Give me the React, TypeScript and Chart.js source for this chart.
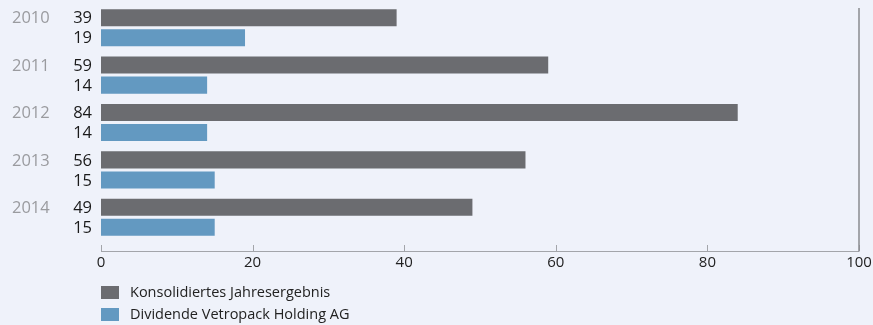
import React, { useEffect, useRef } from "react";
import { Chart, registerables } from "chart.js";

Chart.register(...registerables);

const years = ["2010", "2011", "2012", "2013", "2014"];
const konsolidiert = [39, 59, 84, 56, 49];
const dividende = [19, 14, 14, 15, 15];
const seriesNames = ["Konsolidiertes Jahresergebnis", "Dividende Vetropack Holding AG"];
const seriesColors = ["#6b6c70", "#6399c1"];
const xTicks = [0, 20, 40, 60, 80, 100];

const FONT = "'Open Sans', sans-serif";
const BG = "#eff2fa";

const overlay = {
  id: "overlay",
  afterDraw(chart: any) {
    const { ctx, chartArea, scales } = chart;
    const xs = scales.x;
    const axisY = chartArea.bottom + 10;
    ctx.save();
    // axis line
    ctx.strokeStyle = "#a3a5aa";
    ctx.lineWidth = 1;
    ctx.beginPath();
    ctx.moveTo(xs.getPixelForValue(0), axisY + 0.5);
    ctx.lineTo(xs.getPixelForValue(100), axisY + 0.5);
    ctx.stroke();
    // tick marks
    xTicks.forEach((v) => {
      const px = Math.round(xs.getPixelForValue(v)) + 0.5;
      ctx.beginPath();
      ctx.moveTo(px, axisY - 6);
      ctx.lineTo(px, axisY);
      ctx.stroke();
    });
    // right vertical line
    ctx.strokeStyle = "#8a8b8f";
    ctx.lineWidth = 1.5;
    const rx = xs.getPixelForValue(100);
    ctx.beginPath();
    ctx.moveTo(rx, chartArea.top + 4);
    ctx.lineTo(rx, axisY + 0.5);
    ctx.stroke();

    // value labels
    ctx.font = `16.5px ${FONT}`;
    ctx.textAlign = "right";
    ctx.textBaseline = "middle";
    ctx.fillStyle = "#1a1a1a";
    chart.data.datasets.forEach((ds: any, di: number) => {
      const meta = chart.getDatasetMeta(di);
      meta.data.forEach((bar: any, i: number) => {
        ctx.fillText(String(ds.data[i]), chartArea.left - 9, bar.y + 1);
      });
    });
    // year labels
    ctx.textAlign = "left";
    ctx.fillStyle = "#9a9b9f";
    const meta0 = chart.getDatasetMeta(0);
    meta0.data.forEach((bar: any, i: number) => {
      ctx.fillText(chart.data.labels[i], 12, bar.y + 1);
    });

    // legend
    const lx = chartArea.left;
    const ly0 = chartArea.bottom + 45;
    chart.data.datasets.forEach((ds: any, di: number) => {
      const ly = ly0 + di * 22;
      ctx.fillStyle = ds.backgroundColor;
      ctx.fillRect(lx, ly, 18, 13);
      ctx.fillStyle = "#222";
      ctx.font = `14.5px ${FONT}`;
      ctx.textAlign = "left";
      ctx.textBaseline = "middle";
      ctx.fillText(ds.label, lx + 29, ly + 7);
    });
    ctx.restore();
  },
};

export default function App() {
  const ref = useRef<HTMLCanvasElement | null>(null);
  useEffect(() => {
    document.body.style.margin = "0";
    document.body.style.background = BG;
    if (!ref.current) return;
    const chart = new Chart(ref.current, {
      type: "bar",
      data: {
        labels: years,
        datasets: [
          {
            label: seriesNames[0],
            data: konsolidiert,
            backgroundColor: seriesColors[0],
            categoryPercentage: 0.8466,
            barPercentage: 0.85,
          },
          {
            label: seriesNames[1],
            data: dividende,
            backgroundColor: seriesColors[1],
            categoryPercentage: 0.8466,
            barPercentage: 0.85,
          },
        ],
      },
      options: {
        indexAxis: "y",
        responsive: false,
        animation: false,
        layout: { padding: { left: 101, right: 14, top: 4, bottom: 40 } },
        plugins: { legend: { display: false }, tooltip: { enabled: false } },
        scales: {
          y: { display: false },
          x: {
            min: 0,
            max: 100,
            afterBuildTicks: (scale: any) => {
              scale.ticks = xTicks.map((v) => ({ value: v }));
            },
            afterFit: (scale: any) => {
              scale.paddingLeft = 0;
              scale.paddingRight = 0;
            },
            grid: { display: false, drawTicks: false },
            border: { display: false },
            ticks: {
              padding: 13,
              color: "#222",
              font: { family: FONT, size: 15 },
              maxRotation: 0,
            },
          },
        },
      },
      plugins: [overlay],
    });
    return () => chart.destroy();
  }, []);
  return (
    <div style={{ width: 873, height: 325, background: BG }}>
      <canvas ref={ref} width={873} height={325} />
    </div>
  );
}
